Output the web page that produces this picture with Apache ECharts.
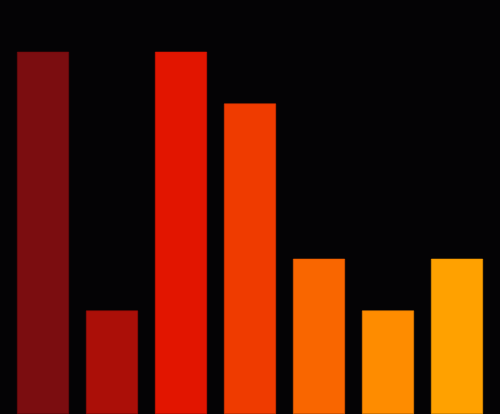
<!DOCTYPE html>
<html lang="en">
<head>
    <meta charset="UTF-8">
    <title>bars</title>
    <style>
        html, body { margin: 0; padding: 0; background: #040305; }
        #main { width: 500px; height: 414px; }
    </style>
    <script src="https://cdn.jsdelivr.net/npm/echarts@6/dist/echarts.min.js"></script>
</head>
<body>
<div id="main"></div>
<script type="text/javascript">
    var categories = ['A', 'B', 'C', 'D', 'E', 'F', 'G'];
    var values = [7, 2, 7, 6, 3, 2, 3];
    var colors = ['#7b0d10', '#ab0f08', '#e21500', '#ef3b00', '#f96600', '#fe8c00', '#ffa100'];
    var borders = ['#6e0a0c', '#950c06', '#d41300', '#dc3500', '#e55d00', '#e88000', '#ec9500'];

    var myChart = echarts.init(document.getElementById('main'));
    var option = {
        backgroundColor: '#040305',
        animation: false,
        grid: { left: 8.5, right: 8.5, top: 0, bottom: 0, containLabel: false },
        xAxis: {
            type: 'category',
            data: categories,
            show: false
        },
        yAxis: {
            type: 'value',
            min: 0,
            max: 8,
            show: false
        },
        series: [{
            type: 'bar',
            barCategoryGap: '24.6%',
            data: values.map(function (v, i) {
                return {
                    value: v,
                    itemStyle: { color: colors[i], borderColor: borders[i], borderWidth: 0.6 }
                };
            })
        }]
    };
    myChart.setOption(option);
</script>
</body>
</html>
